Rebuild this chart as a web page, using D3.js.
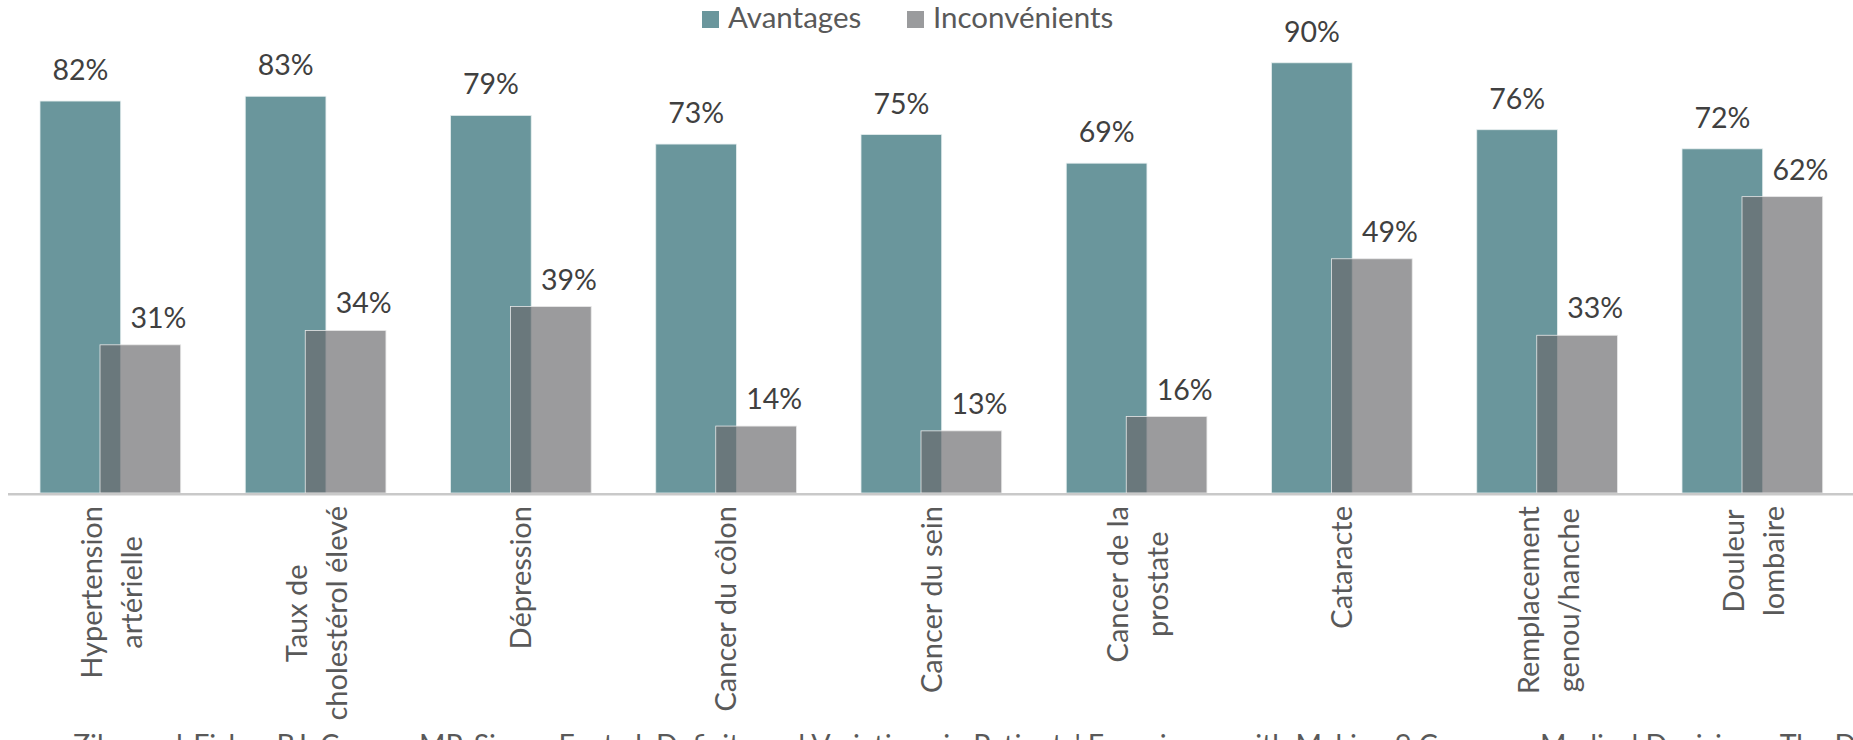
<!DOCTYPE html>
<html>
<head>
<meta charset="utf-8">
<script src="https://d3js.org/d3.v7.min.js"></script>
<style>
  body { margin: 0; background: #fff; font-family: Lato, "Open Sans", sans-serif; }
</style>
</head>
<body>
<div id="chart"></div>
<script>
// data
var categories = [
  ["Hypertension", "artérielle"],
  ["Taux de", "cholestérol élevé"],
  ["Dépression"],
  ["Cancer du côlon"],
  ["Cancer du sein"],
  ["Cancer de la", "prostate"],
  ["Cataracte"],
  ["Remplacement", "genou/hanche"],
  ["Douleur", "lombaire"]
];
var avantages     = [82, 83, 79, 73, 75, 69, 90, 76, 72];
var inconvenients = [31, 34, 39, 14, 13, 16, 49, 33, 62];
var seriesNames = ["Avantages", "Inconvénients"];
var source = "Zikmund-Fisher BJ, Couper MP, Singer E, et al. Deficits and Variations in Patients' Experience with Making 9 Common Medical Decisions: The DECISIONS Survey. Med Decis Making. 2010";

var W = 1853, H = 740;
var baseY = 493;

var svg = d3.select("#chart").append("svg")
  .attr("width", W).attr("height", H);

// scales
var x = d3.scaleBand()
  .domain(d3.range(categories.length))
  .range([8, 8 + 9 * 205.25])
  .paddingInner(0).paddingOuter(0);

var y = d3.scaleLinear()
  .domain([0, 100])
  .range([baseY, baseY - 478]);

var barW = 80.7, barOff = 32, grayOff = 60;

// teal bars
svg.append("g").selectAll("rect")
  .data(avantages)
  .enter().append("rect")
  .attr("x", function(d, i) { return x(i) + barOff; })
  .attr("y", function(d) { return y(d); })
  .attr("width", barW)
  .attr("height", function(d) { return baseY - y(d); })
  .style("fill", "#6a969c")
  .style("stroke", "#e6eeef")
  .style("stroke-width", 0.8);

// grey bars, semi transparent over the teal
svg.append("g").selectAll("rect")
  .data(inconvenients)
  .enter().append("rect")
  .attr("x", function(d, i) { return x(i) + barOff + grayOff; })
  .attr("y", function(d) { return y(d); })
  .attr("width", barW)
  .attr("height", function(d) { return baseY - y(d); })
  .style("fill", "#6a6a6d")
  .style("fill-opacity", 0.67)
  .style("stroke", "#e8e8e8")
  .style("stroke-width", 0.8);

// value labels
svg.append("g").selectAll("text")
  .data(avantages)
  .enter().append("text")
  .attr("x", function(d, i) { return x(i) + barOff + barW / 2; })
  .attr("y", function(d) { return y(d) - 21; })
  .attr("text-anchor", "middle")
  .attr("font-size", "28.5px")
  .style("fill", "#404040")
  .text(function(d) { return d + "%"; });

// the grey labels sit a bit right of their bar in the original
svg.append("g").selectAll("text")
  .data(inconvenients)
  .enter().append("text")
  .attr("x", function(d, i) { return x(i) + barOff + grayOff + barW / 2 + 18; })
  .attr("y", function(d) { return y(d) - 17; })
  .attr("text-anchor", "middle")
  .attr("font-size", "28.5px")
  .style("fill", "#404040")
  .text(function(d) { return d + "%"; });

// axis line
svg.append("line")
  .attr("x1", x.range()[0]).attr("x2", W)
  .attr("y1", baseY + 1.3).attr("y2", baseY + 1.3)
  .style("stroke", "#c9c9c9")
  .style("stroke-width", 2.6);

// category labels, rotated, lines centred, block top under the axis
var lab = svg.append("g").selectAll("g")
  .data(categories)
  .enter().append("g")
  .attr("transform", function(d, i) {
    return "translate(" + (x(i) + x.bandwidth() / 2) + "," + 506 + ") rotate(-90)";
  });

lab.each(function(lines) {
  var g = d3.select(this);
  var texts = lines.map(function(t, j) {
    return g.append("text")
      .attr("text-anchor", "middle")
      .attr("font-size", "29px")
      .style("fill", "#595959")
      .attr("y", (lines.length == 1 ? 10 : 11.5 + (j - (lines.length - 1) / 2) * 40))
      .text(t);
  });
  var maxLen = d3.max(texts, function(t) { return t.node().getComputedTextLength(); });
  texts.forEach(function(t) { t.attr("x", -maxLen / 2); });
});

// legend
var legX = [702, 907];
var legColors = ["#6a969c", "#9a9b9d"];
var leg = svg.append("g").selectAll("g")
  .data(seriesNames)
  .enter().append("g");
leg.append("rect")
  .attr("x", function(d, i) { return legX[i]; })
  .attr("y", 11)
  .attr("width", 17).attr("height", 17)
  .style("fill", function(d, i) { return legColors[i]; });
leg.append("text")
  .attr("x", function(d, i) { return legX[i] + 26; })
  .attr("y", 28)
  .attr("font-size", "29.5px")
  .style("fill", "#595959")
  .text(function(d) { return d; });

// source line, cut off by the bottom edge as in the original
svg.append("text")
  .attr("x", 73)
  .attr("y", 755)
  .attr("font-size", "28.5px")
  .style("fill", "#595959")
  .text(source);
</script>
</body>
</html>
